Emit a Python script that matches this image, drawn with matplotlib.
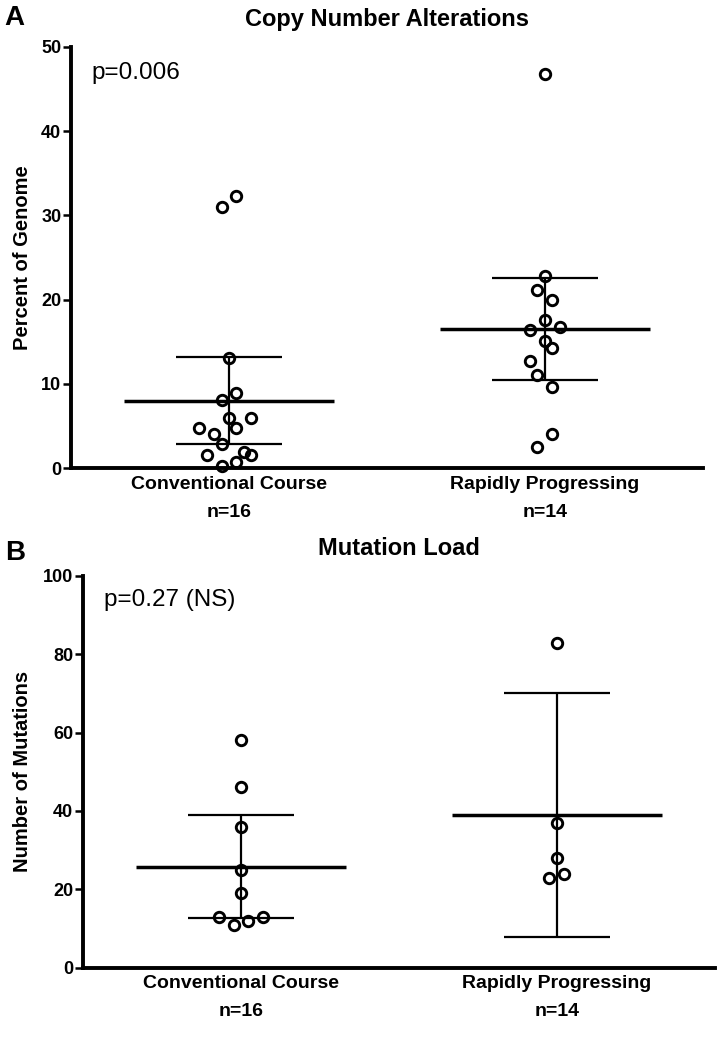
import matplotlib
matplotlib.use("Agg")
import matplotlib.pyplot as plt
import numpy as np

plt.rcParams['font.family'] = ['Liberation Sans', 'DejaVu Sans']

# groups
groups = ["Conventional Course", "Rapidly Progressing"]
group_n = ["n=16", "n=14"]

# copy number alterations (% of genome)
cna_conv = [31.0, 32.3, 13.1, 8.95, 8.1, 6.0, 5.9, 4.8, 4.8, 4.1, 2.9, 1.5, 1.9, 1.5, 0.7, 0.2]
cna_conv_slot = [-1, 1, 0, 1, -1, 0, 3, -4, 1, -2, -1, -3, 2, 3, 1, -1]
cna_rapid = [46.8, 22.8, 21.1, 19.95, 17.6, 16.4, 16.8, 15.1, 14.3, 12.7, 11.0, 9.6, 4.0, 2.5]
cna_rapid_slot = [0, 0, -1, 1, 0, -2, 2, 0, 1, -2, -1, 1, 1, -1]
cna_mean = [8.0, 16.5]
cna_low = [2.8, 10.4]
cna_high = [13.2, 22.6]

# mutation load (number of mutations)
mut_conv = [58, 46, 36, 25, 19, 13, 13, 12, 11]
mut_conv_slot = [0, 0, 0, 0, 0, -3, 3, 1, -1]
mut_rapid = [83, 37, 28, 24, 23]
mut_rapid_slot = [0, 0, 0, 1, -1]
mut_mean = [25.8, 39.0]
mut_low = [12.6, 7.7]
mut_high = [39.0, 70.2]

SLOT = 0.0235


def draw_panel(ax, vals, slots, means, lows, highs, ymax, ystep, title, ylabel, ptext):
    for i, (v, s) in enumerate(zip(vals, slots)):
        x = i + np.array(s) * SLOT
        ax.plot(x, v, 'o', ms=7.5, mfc='none', mec='black', mew=2.1, zorder=3, clip_on=False)
    for i in range(2):
        ax.hlines(means[i], i - 0.332, i + 0.332, color='black', lw=2.5, zorder=4)
        ax.hlines([lows[i], highs[i]], i - 0.168, i + 0.168, color='black', lw=1.6, zorder=4)
        ax.vlines(i, lows[i], highs[i], color='black', lw=1.6, zorder=4)
    ax.set_xlim(-0.5, 1.5)
    ax.set_ylim(0, ymax)
    ax.set_yticks(np.arange(0, ymax + 1, ystep))
    ax.set_xticks([])
    for sp in ['top', 'right']:
        ax.spines[sp].set_visible(False)
    for sp in ['left', 'bottom']:
        ax.spines[sp].set_linewidth(2.8)
    ax.tick_params(axis='y', direction='out', length=6, width=1.8, labelsize=13, pad=1)
    for lab in ax.get_yticklabels():
        lab.set_fontweight('bold')
    ax.set_title(title, fontsize=17, fontweight='bold', pad=15)
    ax.text(0.033, 0.938, ptext, transform=ax.transAxes, fontsize=17.5, ha='left', va='center')
    for i in range(2):
        ax.annotate(groups[i], xy=(i, 0), xycoords=('data', 'axes fraction'),
                    xytext=(0, -16), textcoords='offset pixels', ha='center', va='center',
                    fontsize=14, fontweight='bold')
        ax.annotate(group_n[i], xy=(i, 0), xycoords=('data', 'axes fraction'),
                    xytext=(0, -44), textcoords='offset pixels', ha='center', va='center',
                    fontsize=14, fontweight='bold')
    ax.set_ylabel(ylabel, fontsize=14.5, fontweight='bold')


fig = plt.figure(figsize=(7.18, 10.63), dpi=100)
ax1 = fig.add_axes([0.0989, 0.5597, 0.880, 0.3961])
ax2 = fig.add_axes([0.1156, 0.0897, 0.880, 0.3685])

draw_panel(ax1, [cna_conv, cna_rapid], [cna_conv_slot, cna_rapid_slot], cna_mean, cna_low, cna_high,
           50, 10, "Copy Number Alterations", "Percent of Genome", "p=0.006")
draw_panel(ax2, [mut_conv, mut_rapid], [mut_conv_slot, mut_rapid_slot], mut_mean, mut_low, mut_high,
           100, 20, "Mutation Load", "Number of Mutations", "p=0.27 (NS)")

ax1.yaxis.set_label_coords(-0.0775, 0.5)
ax1.yaxis.label.set_va('center')
ax2.yaxis.set_label_coords(-0.095, 0.5)
ax2.yaxis.label.set_va('center')

fig.text(14 / 718, 1 - 18 / 1063, "A", fontsize=20, fontweight='bold', ha='center', va='center')
fig.text(15 / 718, 1 - 553 / 1063, "B", fontsize=20, fontweight='bold', ha='center', va='center')

fig.savefig("out.png", dpi=100)
